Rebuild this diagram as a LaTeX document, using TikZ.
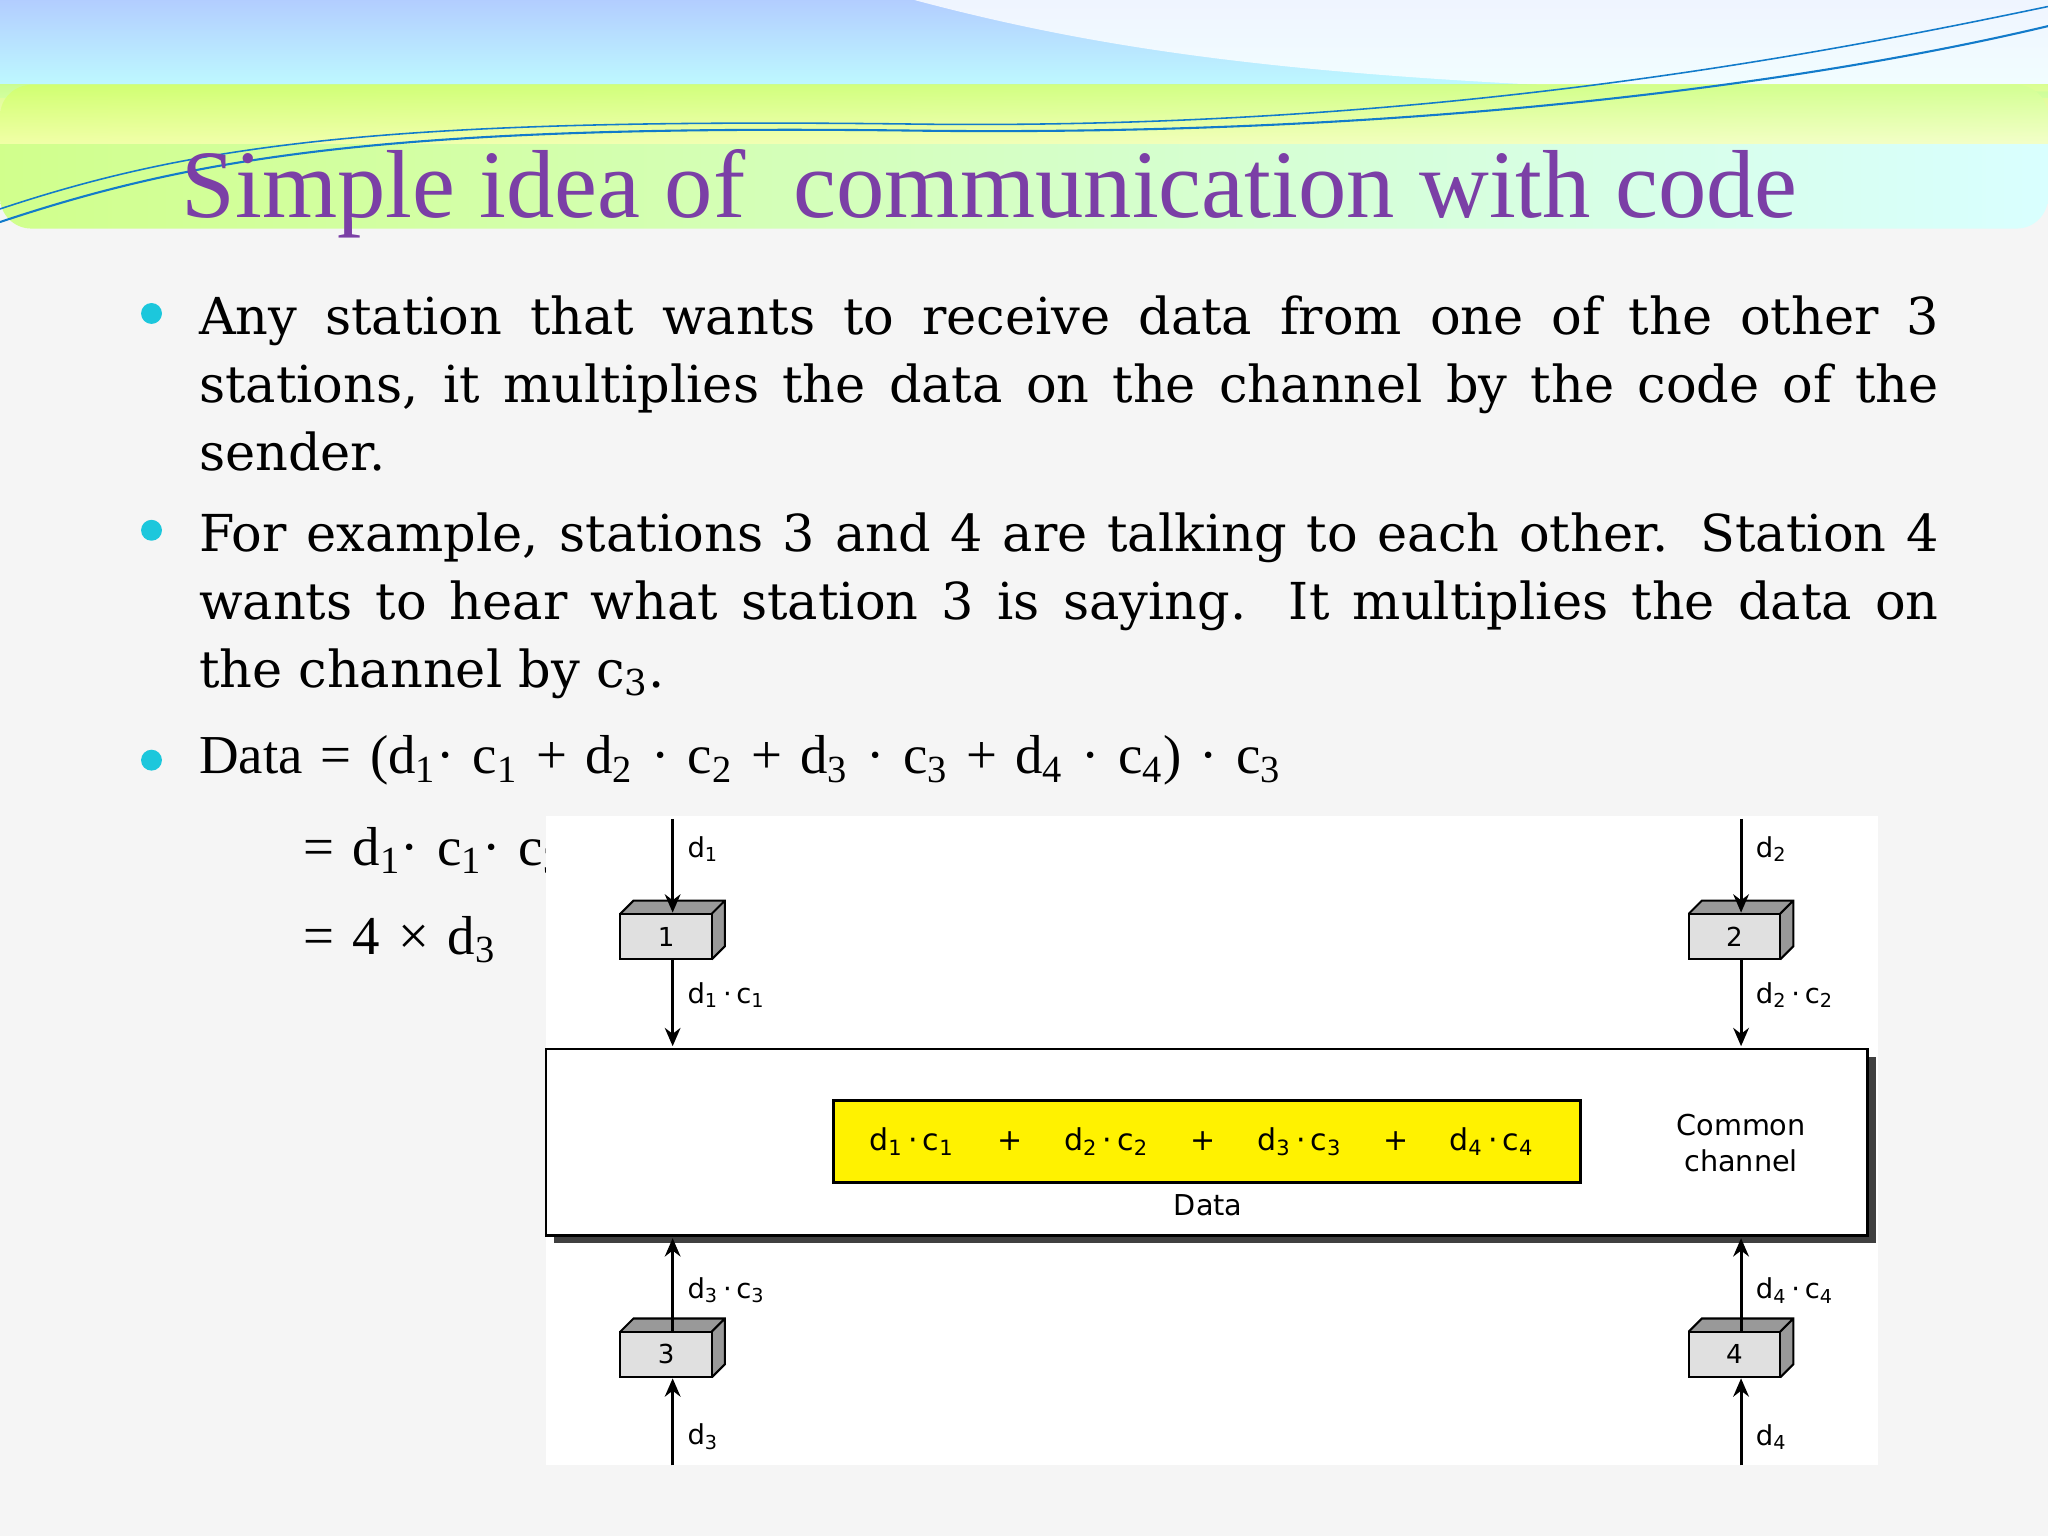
\documentclass[tikz,border=0pt]{standalone}
\usepackage{fontspec}
\setmainfont{DejaVu Serif}
\newfontfamily\ttlfont{Liberation Serif}
\newfontfamily\diag{DejaVu Sans}
\usetikzlibrary{arrows.meta}
\definecolor{ttl}{HTML}{7B3FA6}
\definecolor{bul}{HTML}{1CC7DC}
\definecolor{bgc}{HTML}{F5F5F5}
\tikzset{
 body/.style={anchor=north west,text width=666pt,align=justify,font=\fontsize{19.5}{26}\selectfont,inner sep=0pt},
 eqn/.style={anchor=north west,text width=600pt,align=left,font=\ttlfont\fontsize{21}{26}\selectfont,inner sep=0pt},
 lab/.style={font=\diag\fontsize{10.5}{12}\selectfont,anchor=west,inner sep=1pt},
 arr/.style={-{Stealth[length=7pt,width=6pt]},line width=1.1pt},
 bfront/.style={draw,line width=0.8pt,fill=black!12,minimum width=35pt,minimum height=17.5pt,inner sep=0pt,font=\diag\fontsize{10}{12}\selectfont},
}
\newcommand{\ssb}[1]{\textsubscript{#1}}
\begin{document}
\begin{tikzpicture}[x=0.5pt,y=-0.5pt]
\useasboundingbox (0,0) rectangle (1568,1176);
\fill[bgc] (0,0) rectangle (1568,1176);
\shade[top color=cyan!35!blue!30,bottom color=cyan!25] (0,0) rectangle (1568,75);
\fill[white,opacity=0.8] (700,0) .. controls (850,40) and (1000,60) .. (1300,70) -- (1568,70) -- (1568,0) -- cycle;
\shade[left color=yellow!60!green!45,right color=cyan!15,rounded corners=12pt] (0,65) rectangle (1568,175);
\shade[top color=yellow!70!green!60,bottom color=yellow!30,opacity=0.7] (0,65) rectangle (1568,110);
\draw[cyan!60!blue,line width=0.8pt] (0,170) .. controls (150,120) and (300,95) .. (700,100) .. controls (1100,105) and (1400,60) .. (1568,20);
\draw[cyan!60!blue,line width=0.6pt] (0,160) .. controls (150,110) and (300,90) .. (700,95) .. controls (1100,100) and (1400,40) .. (1568,5);
\node[font=\ttlfont\fontsize{37}{40}\selectfont,text=ttl,anchor=west] (title) at (132,148) {Simple idea of\ \ communication with code};
\foreach \yy in {240,406,582}{\fill[bul] (116,\yy) circle (8) ;}
\hyphenpenalty=10000
\node[body] (t1) at (152,226) {Any station that wants to receive data from one of the other 3\linebreak stations, it multiplies the data on the channel by the code of the\linebreak sender.};
\node[body] (t2) at (152,392) {For example, stations 3 and 4 are talking to each other. Station 4\linebreak wants to hear what station 3 is saying. It multiplies the data on\linebreak the channel by c\ssb{3}.};
\node[eqn] (t3) at (152,563) {Data = (d\ssb{1}· c\ssb{1} + d\ssb{2} · c\ssb{2} + d\ssb{3} · c\ssb{3} + d\ssb{4} · c\ssb{4}) · c\ssb{3}};
\node[eqn] (t4) at (232,633) {= d\ssb{1}· c\ssb{1}· c\ssb{3}};
\node[eqn] (t5) at (232,701) {= 4 × d\ssb{3}};
% diagram
\fill[white] (418,625) rectangle (1438,1122);
\fill[black!75] (424,809) rectangle (1436,952);
\draw[fill=white,line width=1pt] (418,803) rectangle (1430,946);
\node[draw,line width=1pt,fill=yellow,minimum width=286pt,minimum height=31.5pt,inner sep=0pt] (data) at (924,874) {};
\foreach \xx/\t in {698/{d\ssb{1}\,·\,c\ssb{1}},773/+,847/{d\ssb{2}\,·\,c\ssb{2}},921/+,995/{d\ssb{3}\,·\,c\ssb{3}},1069/+,1142/{d\ssb{4}\,·\,c\ssb{4}}}
 {\node[font=\diag\fontsize{11.5}{12}\selectfont] at (\xx,874) {\t};}
\node[font=\diag\fontsize{11}{12}\selectfont] (dl) at (925,923) {Data};
\node[font=\diag\fontsize{11}{14}\selectfont,align=center] (cc) at (1333,875) {Common\\channel};
\coordinate (ch1) at (515,801);
\coordinate (ch2) at (1333,801);
\coordinate (ch3) at (515,948);
\coordinate (ch4) at (1333,948);
\coordinate (i1) at (515,627);
\coordinate (i2) at (1333,627);
\coordinate (i3) at (515,1122);
\coordinate (i4) at (1333,1122);
\foreach \n/\xx/\yy/\l in {s1/510/717/1,s2/1328/717/2,s3/510/1037/3,s4/1328/1037/4}{
 \fill[black!40] (\xx-35,\yy-17.5) -- ++(10,-10) -- ++(70,0) -- ++(0,35) -- ++(-10,10) -- cycle;
 \draw[line width=0.8pt] (\xx-35,\yy-17.5) -- ++(10,-10) -- ++(70,0) -- ++(0,35) -- ++(-10,10) (\xx+35,\yy-17.5) -- ++(10,-10);
 \node[bfront] (\n) at (\xx,\yy) {\l};
}
\draw[arr] (i1) -- (s1.north -| i1);
\draw[arr] (s1.south -| i1) -- (ch1);
\draw[arr] (i2) -- (s2.north -| i2);
\draw[arr] (s2.south -| i2) -- (ch2);
\draw[arr] (s3.north -| i3) -- (ch3);
\draw[arr] (i3) -- (s3.south -| i3);
\draw[arr] (s4.north -| i4) -- (ch4);
\draw[arr] (i4) -- (s4.south -| i4);
\node[lab] at (524,650) {d\ssb{1}};
\node[lab] at (524,762) {d\ssb{1}\,·\,c\ssb{1}};
\node[lab] at (1342,650) {d\ssb{2}};
\node[lab] at (1342,762) {d\ssb{2}\,·\,c\ssb{2}};
\node[lab] at (524,988) {d\ssb{3}\,·\,c\ssb{3}};
\node[lab] at (524,1100) {d\ssb{3}};
\node[lab] at (1342,988) {d\ssb{4}\,·\,c\ssb{4}};
\node[lab] at (1342,1100) {d\ssb{4}};
\end{tikzpicture}
\end{document}
